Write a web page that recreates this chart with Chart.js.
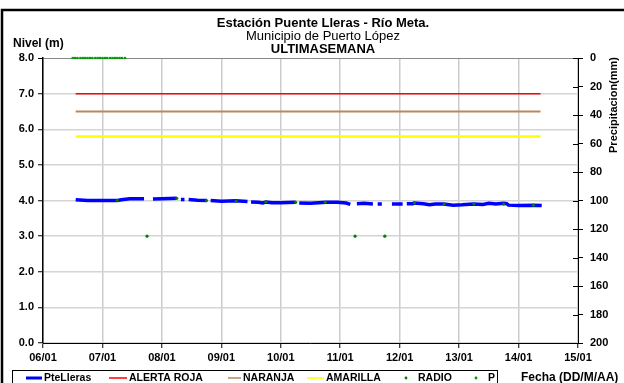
<!DOCTYPE html>
<html><head><meta charset="utf-8">
<script src="https://cdn.jsdelivr.net/npm/chart.js@4/dist/chart.umd.min.js"></script>
<style>html,body{margin:0;padding:0;background:#fff}#wrap{width:624px;height:383px;position:relative;overflow:hidden}</style>
</head><body><div id="wrap"><canvas id="c" width="624" height="383"></canvas></div>
<script>
// ---- data ----
const dateTicks = ["06/01","07/01","08/01","09/01","10/01","11/01","12/01","13/01","14/01","15/01"];
const levelTicks = [0,1,2,3,4,5,6,7,8];
const precipTicks = [0,20,40,60,80,100,120,140,160,180,200];
const titleLines = ["Estación Puente Lleras - Río Meta.","Municipio de Puerto López","ULTIMASEMANA"];
const levelAxisTitle = "Nivel (m)";
const precipAxisTitle = "Precipitacion(mm)";
const dateAxisTitle = "Fecha (DD/M/AA)";

// days since 06/01 00:00 ; null = gap in record
const levelDays =   [0.55,0.75,1.00,1.25,1.35,1.46,1.70,1.75,1.85,2.00,2.25,2.29,2.32,2.38,2.41,2.45,2.60,2.76,2.79,2.82,3.00,3.24,3.44,3.47,3.50,3.62,3.70,3.75,3.85,4.00,4.25,4.28,4.31,4.50,4.76,4.95,5.10,5.17,5.21,5.28,5.40,5.55,5.59,5.63,5.70,5.78,5.87,6.05,6.09,6.12,6.22,6.24,6.40,6.50,6.60,6.74,6.90,7.05,7.24,7.40,7.50,7.62,7.75,7.80,7.83,8.00,8.25,8.39];
const levelValues = [4.02,4.00,4.00,4.00,4.03,4.05,4.05,null,4.04,4.05,4.06,null,4.03,4.03,null,4.03,4.01,4.00,null,4.00,3.98,3.99,3.97,null,3.96,3.95,3.93,3.96,3.94,3.94,3.95,null,3.93,3.92,3.95,3.95,3.93,3.89,null,3.91,3.92,3.90,null,3.90,3.90,null,3.90,3.90,null,3.91,3.91,3.93,3.91,3.88,3.90,3.90,3.87,3.88,3.90,3.89,3.92,3.90,3.92,3.91,3.87,3.86,3.87,3.86];

const radioDays =   [1.25,1.75,2.25,2.75,3.25,3.75,4.25,4.75,5.25,5.75,6.25,6.75,7.25,7.75,8.25];
const radioValues = [4.00,3.00,4.06,4.00,3.98,3.96,3.95,3.95,3.00,3.00,3.93,3.90,3.90,3.90,3.87];

const pDays =   [0.50,0.54,0.58,0.63,0.67,0.71,0.75,0.79,0.83,0.88,0.92,0.96,1.00,1.04,1.08,1.13,1.17,1.21,1.25,1.29,1.33,1.38];
const pValues = [0,0,0,0,0,0,0,0,0,0,0,0,0,0,0,0,0,0,0,0,0,0];

const thresholdStart = 0.55, thresholdEnd = 8.37;
const alertaRoja = 7.0, naranja = 6.5, amarilla = 5.8;

// ---- build ----
const FONT = '"Liberation Sans", Arial, sans-serif';
const pts = (xs, ys) => xs.map((x,i)=>({x:x, y:ys[i]}));
const thr = v => [{x:thresholdStart,y:v},{x:thresholdEnd,y:v}];

const datasets = [
  {label:"PteLleras", data:pts(levelDays, levelValues), borderColor:'#0000ff', backgroundColor:'#0000ff', borderWidth:3.5, pointRadius:0, spanGaps:false, yAxisID:'y', order:2, legendKind:'line', legendWidth:3},
  {label:"ALERTA ROJA", data:thr(alertaRoja), borderColor:'#ff0000', backgroundColor:'#ff0000', borderWidth:1.5, pointRadius:0, yAxisID:'y', order:3, legendKind:'line', legendWidth:1.5},
  {label:"NARANJA", data:thr(naranja), borderColor:'#b9875c', backgroundColor:'#b9875c', borderWidth:2, pointRadius:0, yAxisID:'y', order:3, legendKind:'line', legendWidth:1.5},
  {label:"AMARILLA", data:thr(amarilla), borderColor:'#ffff00', backgroundColor:'#ffff00', borderWidth:2.5, pointRadius:0, yAxisID:'y', order:3, legendKind:'line', legendWidth:1.5},
  {label:"RADIO", data:pts(radioDays, radioValues), showLine:false, borderColor:'#008000', backgroundColor:'#008000', pointRadius:1.6, pointBorderWidth:0, yAxisID:'y', order:0, legendKind:'dot'},
  {label:"P", data:pts(pDays, pValues), showLine:false, clip:false, borderColor:'#009900', backgroundColor:'#009900', pointStyle:'rect', pointRadius:1.6, pointBorderWidth:0, yAxisID:'y2', order:1, legendKind:'dot'}
];

// legend item positions (style)
const legendPos = [[26,44],[109,129],[228,243],[307,326],[406,418],[476,488]];

const deco = {
  id:'deco',
  afterDraw(chart){
    const ctx = chart.ctx;
    const ca = chart.chartArea;
    ctx.save();
    // right-axis inward ticks
    const y2 = chart.scales.y2;
    ctx.strokeStyle = '#000'; ctx.lineWidth = 1;
    y2.ticks.forEach(t=>{
      const yy = Math.round(y2.getPixelForValue(t.value))+0.5;
      ctx.beginPath(); ctx.moveTo(ca.right-5, yy); ctx.lineTo(ca.right, yy); ctx.stroke();
    });
    // outer frame
    ctx.lineWidth = 2.5; ctx.strokeRect(2, 10, 800, 600);
    // titles
    ctx.fillStyle = '#000'; ctx.textBaseline = 'middle'; ctx.textAlign = 'center';
    ctx.font = 'bold 13px ' + FONT; ctx.fillText(titleLines[0], 323, 23);
    ctx.font = '13px ' + FONT;      ctx.fillText(titleLines[1], 323, 36);
    ctx.font = 'bold 13px ' + FONT; ctx.fillText(titleLines[2], 323, 49);
    ctx.textAlign = 'left';
    ctx.font = 'bold 12px ' + FONT;
    ctx.fillText(levelAxisTitle, 13, 44);
    ctx.fillText(dateAxisTitle, 521, 378);
    // right axis title
    ctx.save();
    ctx.translate(614, 57); ctx.rotate(-Math.PI/2);
    ctx.textAlign = 'right'; ctx.font = 'bold 11px ' + FONT;
    ctx.fillText(precipAxisTitle, 0, 0);
    ctx.restore();
    // legend
    ctx.lineWidth = 1; ctx.strokeStyle = '#000';
    ctx.strokeRect(12.5, 370.5, 485, 30);
    ctx.font = 'bold 10.5px ' + FONT; ctx.textAlign = 'left';
    chart.data.datasets.forEach((ds,i)=>{
      const [sx, tx] = legendPos[i];
      const ly = 378;
      if (ds.legendKind === 'line') {
        ctx.strokeStyle = ds.borderColor; ctx.lineWidth = ds.legendWidth;
        ctx.beginPath(); ctx.moveTo(sx, ly); ctx.lineTo(tx-2, ly); ctx.stroke();
      } else {
        ctx.fillStyle = ds.backgroundColor;
        ctx.beginPath(); ctx.arc(sx, ly, 1.4, 0, Math.PI*2); ctx.fill();
      }
      ctx.fillStyle = '#000';
      ctx.fillText(ds.label, tx, ly+0.5);
    });
    ctx.restore();
  }
};

new Chart(document.getElementById('c'), {
  type:'line',
  data:{datasets},
  options:{
    responsive:false, animation:false, devicePixelRatio:1,
    layout:{padding:{top:58,left:0,right:0,bottom:0}},
    plugins:{legend:{display:false}, title:{display:false}, tooltip:{enabled:false}},
    elements:{line:{tension:0}},
    scales:{
      x:{type:'linear', min:0, max:dateTicks.length-1,
         afterFit(s){ s.height = 40; },
         afterBuildTicks(s){ s.ticks = dateTicks.map((_,i)=>({value:i})); },
         ticks:{callback:(v)=>dateTicks[v], color:'#000', font:{family:FONT, size:11, weight:'bold'}, padding:3, maxRotation:0, autoSkip:false},
         grid:{color:'#cccccc', lineWidth:1.5, tickLength:5, tickColor:'#000', tickWidth:1},
         border:{color:'#000', width:1}},
      y:{type:'linear', position:'left', min:0, max:8,
         afterFit(s){ s.width = 43; },
         afterBuildTicks(s){ s.ticks = levelTicks.map(v=>({value:v})); },
         ticks:{callback:(v)=>v.toFixed(1), color:'#000', font:{family:FONT, size:11, weight:'bold'}, padding:4},
         grid:{color:(c)=> c.tick && c.tick.value===8 ? '#888888' : '#d4d4d4', lineWidth:(c)=> c.tick && c.tick.value===8 ? 1 : 1.5, tickLength:5, tickColor:'#000', tickWidth:1},
         border:{color:'#000', width:1.5}},
      y2:{type:'linear', position:'right', min:0, max:200, reverse:true,
         afterFit(s){ s.width = 46; },
         afterBuildTicks(s){ s.ticks = precipTicks.map(v=>({value:v})); },
         ticks:{color:'#000', font:{family:FONT, size:11, weight:'bold'}, padding:7},
         grid:{drawOnChartArea:false, tickLength:5, tickColor:'#000', tickWidth:1},
         border:{color:'#000', width:1}}
    }
  },
  plugins:[deco]
});
</script></body></html>
